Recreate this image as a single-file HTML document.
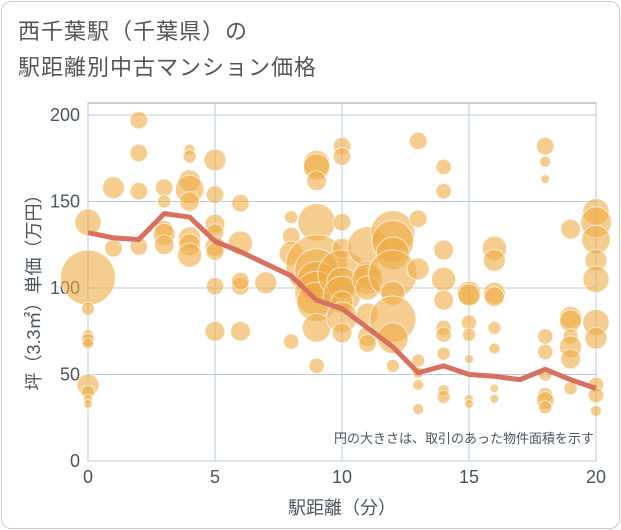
<!DOCTYPE html>
<html><head><meta charset="utf-8"><style>
body{margin:0;background:#fff;font-family:"Liberation Sans","Noto Sans CJK JP",sans-serif}
#frame{position:absolute;left:1px;top:1px;width:617px;height:526px;border:1px solid #ccc;border-radius:10px;background:#fff}
#title{position:absolute;left:18px;top:14px;font-size:22px;line-height:36px;color:#555;letter-spacing:1px}
</style></head><body>
<div id="frame"></div>
<div id="title">西千葉駅（千葉県）の<br>駅距離別中古マンション価格</div>
<svg id="chart" width="621" height="530" style="position:absolute;left:0;top:0"></svg>
<script>
const xTicks=[0,5,10,15,20];
const yTicks=[0,50,100,150,200];
const lineX=[0,1,2,3,4,5,6,7,8,9,10,11,12,13,14,15,16,17,18,19,20];
const lineY=[132,129,128,143,141,127,121,114,107,93,88,77,66,51,55,50,49,47,53,47,42];
const bubX=[0,0,0,0,0,0,0,0,0,0,1,1,2,2,2,2,3,3,3,3,3,4,4,4,4,4,4,4,4,5,5,5,5,5,5,5,5,6,6,6,6,6,7,8,8,8,8,9,9,9,9,9,9,9,9,9,9,9,10,10,10,10,10,10,10,10,10,10,11,11,11,11,11,11,11,12,12,12,12,12,12,12,12,13,13,13,13,13,13,13,14,14,14,14,14,14,14,14,14,14,15,15,15,15,15,15,15,16,16,16,16,16,16,16,16,18,18,18,18,18,18,18,18,18,19,19,19,19,19,19,19,20,20,20,20,20,20,20,20,20,20];
const bubY=[138,106,88,73,70,68,44,40,36,33,158,123,197,178,156,124,158,150,134,131,125,180,176,162,157,150,129,125,119,174,154,137,132,124,121,101,75,149,126,101,75,104,103,141,130,120,69,172,170,162,138,113,110,104,97,92,77,55,182,176,138,123,108,103,96,92,83,74,124,108,105,100,85,72,68,132,127,120,108,97,82,71,55,185,140,111,58,51,44,30,170,156,122,105,93,77,73,62,41,37,97,96,80,73,59,36,33,123,116,97,95,77,65,42,36,182,173,163,72,63,50,38,35,31,134,83,81,72,66,59,42,144,138,128,116,105,80,71,44,38,29];
const bubR=[12,25,6,5,6,5,10,6,4,4,10,8,8,8,8,8,8,6,8,10,9,5,6,10,13,9,10,10,11,10,8,9,8,9,8,8,9,8,11,8,9,8,10,6,8,11,7,12,12,9,17,28,20,18,20,18,13,7,8,8,8,9,22,14,17,10,14,9,18,12,14,11,10,9,8,20,19,15,22,11,21,14,6,8,8,10,6,5,5,5,7,7,9,11,9,7,7,6,5,6,11,10,7,6,4,4,4,11,10,10,9,6,5,4,4,8,5,4,7,7,6,7,8,6,9,10,10,7,10,9,6,12,14,13,10,12,12,10,7,7,5];
const svg=document.getElementById('chart');const NS='http://www.w3.org/2000/svg';
const L=88,R=596,T=103,B=461;
const sx=v=>L+(v/20)*(R-L);
const sy=v=>B-(v/200)*(461-115);
function mk(t,a){const e=document.createElementNS(NS,t);for(const k in a)e.setAttribute(k,a[k]);svg.appendChild(e);return e;}
const bg=mk('rect',{x:L,y:T,width:R-L,height:B-T,fill:'#fff',stroke:'#999'});


xTicks.forEach(t=>{const g=mk('line',{x1:sx(t),x2:sx(t),y1:T,y2:B,stroke:'#b8c8dc','stroke-width':1});


const tx=mk('text',{x:sx(t),y:483,'text-anchor':'middle','font-size':18,fill:'#4a5560'});tx.textContent=t;

});
yTicks.forEach(t=>{const g=mk('line',{x1:L,x2:R,y1:sy(t),y2:sy(t),stroke:'#b8c8dc','stroke-width':1});


const tx=mk('text',{x:80,y:sy(t)+6,'text-anchor':'end','font-size':18,fill:'#4a5560'});tx.textContent=t;

});
for(let i=0;i<bubX.length;i++){const c=mk('circle',{cx:sx(bubX[i]),cy:sy(bubY[i]),r:bubR[i]*1.1,fill:'rgba(238,172,68,0.6)',stroke:'rgba(255,255,255,0.7)','stroke-width':1});

}
const ln=mk('polyline',{points:lineX.map((x,i)=>sx(x)+','+sy(lineY[i])).join(' '),fill:'none',stroke:'#d87060','stroke-width':5,'stroke-linejoin':'round'});


const note=mk('text',{x:594,y:443,'text-anchor':'end','font-size':13,fill:'#4a5560'});note.textContent='円の大きさは、取引のあった物件面積を示す';


const xt=mk('text',{x:342,y:514,'text-anchor':'middle','font-size':18,fill:'#4a5560'});xt.textContent='駅距離（分）';


const yt=mk('text',{x:0,y:0,'text-anchor':'middle','font-size':18,fill:'#4a5560',transform:'translate(40,288) rotate(-90)'});yt.textContent='坪（3.3㎡）単価（万円）';


</script>
</body></html>
